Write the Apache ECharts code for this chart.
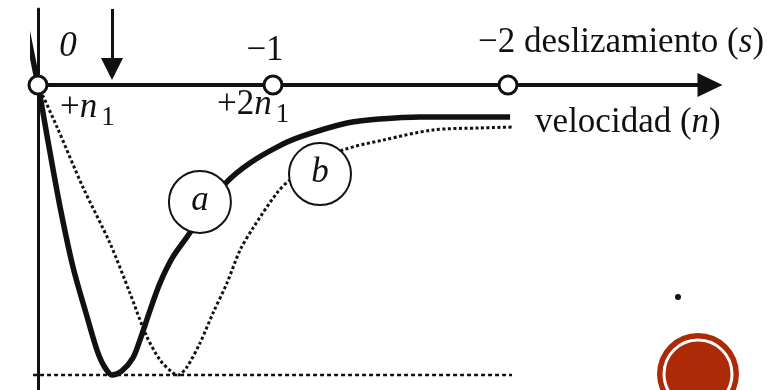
<!DOCTYPE html>
<html>
<head>
<meta charset="utf-8">
<script src="https://cdn.jsdelivr.net/npm/echarts@6/dist/echarts.min.js"></script>
<style>
  html, body { margin: 0; padding: 0; background: #fff; }
  #chart { width: 776px; height: 390px; }
</style>
</head>
<body>
<div id="chart"></div>
<script>
// Torque–slip characteristic of an induction machine (normalised torque T/Tmax vs slip s)
const slipTicks = [0, -1, -2];
const slipTickLabels = ['0', '−1', '−2'];
const speedTickLabels = ['+n1', '+2n1'];
const slipAxisName = 'deslizamiento';
const slipSymbol = 's';
const speedAxisName = 'velocidad';
const speedSymbol = 'n';

// curve a (thick) : slip and torque samples
const curveASlip   = [0.064, 0, -0.047, -0.094, -0.149, -0.209, -0.251, -0.281, -0.315, -0.357, -0.404, -0.434, -0.477, -0.519, -0.574, -0.634, -0.723, -0.804, -0.902, -1.017, -1.115, -1.315, -1.455, -1.626, -2.009];
const curveATorque = [0.259, 0, -0.214, -0.421, -0.628, -0.800, -0.914, -0.969, -1.000, -0.986, -0.941, -0.879, -0.776, -0.683, -0.593, -0.524, -0.421, -0.334, -0.269, -0.214, -0.179, -0.131, -0.117, -0.110, -0.110];

// curve b (dotted)
const curveBSlip   = [0, -0.081, -0.191, -0.306, -0.391, -0.460, -0.519, -0.574, -0.596, -0.634, -0.689, -0.745, -0.804, -0.860, -0.915, -1.017, -1.072, -1.183, -1.298, -1.468, -1.681, -1.881, -2.017];
const curveBTorque = [0, -0.145, -0.352, -0.545, -0.717, -0.862, -0.948, -0.993, -1.000, -0.972, -0.890, -0.786, -0.683, -0.569, -0.493, -0.372, -0.328, -0.276, -0.224, -0.190, -0.155, -0.148, -0.145];

// curve tags
const tagNames  = ['a', 'b'];
const tagSlip   = [-0.689, -1.2];
const tagTorque = [-0.403, -0.307];

// maximum-torque reference level
const breakdownTorque = -1;
const breakdownSlip = [0.021, -2.017];

// slip marked with the arrow
const arrowSlip = -0.315;

const FONT = "'Liberation Serif', 'DejaVu Serif', 'Times New Roman', serif";
const INK = '#111';
const FS = 35;

const zip = (xs, ys) => xs.map((x, i) => [x, ys[i]]);

const rich = {
  r:   { fontFamily: FONT, fontSize: FS, color: INK },
  i:   { fontFamily: FONT, fontSize: FS, color: INK, fontStyle: 'italic' },
  sub: { fontFamily: FONT, fontSize: 27, color: INK, padding: [20, 0, 0, 4] }
};

// "+2n1" -> plain prefix, italic n, subscript index
function speedRich(label) {
  const m = label.match(/^(\+\d*)n(\d)$/);
  return '{r|' + m[1] + '}{i|n}{sub|' + m[2] + '}';
}

const slipLabelStyle = [
  { offset: [30, -38], align: 'center' },
  { offset: [-8, -34], align: 'center' },
  { offset: [-30, -42], align: 'left' }
];
const speedLabelStyle = [
  { offset: [22, 23] },
  { offset: [-56, 20] }
];

const X_MIN = -2.8596, X_MAX = 0.02128;
const Y_MIN = -1.0517, Y_MAX = 0.2621;

const chart = echarts.init(document.getElementById('chart'), null, { renderer: 'canvas' });

const lastA = curveASlip.length - 1;

chart.setOption({
  backgroundColor: '#fff',
  animation: false,
  grid: { left: 33, right: 66, top: 9, bottom: 0, containLabel: false },
  xAxis: {
    type: 'value', inverse: true, min: X_MIN, max: X_MAX,
    axisLine: {
      show: true, onZero: true,
      symbol: ['none', 'triangle'], symbolSize: [24, 25],
      lineStyle: { color: INK, width: 4 }
    },
    axisTick: { show: false }, axisLabel: { show: false }, splitLine: { show: false }
  },
  yAxis: {
    type: 'value', min: Y_MIN, max: Y_MAX,
    axisLine: { show: true, onZero: true, lineStyle: { color: INK, width: 3 } },
    axisTick: { show: false }, axisLabel: { show: false }, splitLine: { show: false }
  },
  series: [
    {
      name: 'b', type: 'line', z: 2, clip: false, smooth: 0.3, symbol: 'none',
      data: zip(curveBSlip, curveBTorque),
      lineStyle: { color: INK, width: 3, type: [3, 2.5] }
    },
    {
      name: 'a', type: 'line', z: 3, clip: false, smooth: 0.3, symbol: 'none',
      data: zip(curveASlip, curveATorque),
      lineStyle: { color: INK, width: 5.5 }
    },
    {
      name: 'Tmax', type: 'line', z: 2, clip: false, symbol: 'none',
      data: [[breakdownSlip[0], breakdownTorque], [breakdownSlip[1], breakdownTorque]],
      lineStyle: { color: INK, width: 2.5, type: [4, 3] }
    },
    {
      name: 'arrow', type: 'line', z: 4, symbol: 'none', data: [],
      markLine: {
        silent: true, animation: false,
        symbol: ['none', 'triangle'], symbolSize: [22, 22],
        label: { show: false },
        lineStyle: { color: INK, width: 3, type: 'solid' },
        data: [[{ coord: [arrowSlip, Y_MAX] }, { coord: [arrowSlip, 0.055] }]]
      }
    },
    {
      // speed axis name, anchored at the end of curve a
      name: 'speedName', type: 'scatter', z: 6, symbolSize: 0,
      itemStyle: { opacity: 1 },
      data: [[curveASlip[lastA], curveATorque[lastA]]],
      label: {
        show: true, position: 'inside', align: 'left', verticalAlign: 'middle',
        offset: [25, 6],
        formatter: '{r|' + speedAxisName + ' (}{i|' + speedSymbol + '}{r|)}',
        rich: rich
      }
    },
    {
      name: 'slip', type: 'scatter', z: 6, symbol: 'circle', symbolSize: 18,
      itemStyle: { color: '#fff', borderColor: INK, borderWidth: 3, opacity: 1 },
      data: slipTicks.map((s, i) => ({
        value: [s, 0],
        label: {
          show: true, position: 'inside', verticalAlign: 'middle',
          align: slipLabelStyle[i].align, offset: slipLabelStyle[i].offset,
          formatter: i === 0 ? '{i|' + slipTickLabels[i] + '}'
            : i === slipTicks.length - 1
              ? '{r|' + slipTickLabels[i] + ' ' + slipAxisName + ' (}{i|' + slipSymbol + '}{r|)}'
              : '{r|' + slipTickLabels[i] + '}',
          rich: rich
        }
      }))
    },
    {
      name: 'speed', type: 'scatter', z: 6, symbolSize: 0,
      itemStyle: { opacity: 1 },
      data: speedTickLabels.map((lab, i) => ({
        value: [slipTicks[i], 0],
        label: {
          show: true, position: 'inside', align: 'left', verticalAlign: 'middle',
          offset: speedLabelStyle[i].offset,
          formatter: speedRich(lab), rich: rich
        }
      }))
    },
    {
      name: 'tags', type: 'scatter', z: 7, symbol: 'circle', symbolSize: 62,
      itemStyle: { color: '#fff', borderColor: INK, borderWidth: 2, opacity: 1 },
      data: tagNames.map((t, i) => ({ value: [tagSlip[i], tagTorque[i]], name: t })),
      label: {
        show: true, position: 'inside', offset: [0, -1],
        formatter: p => '{i|' + p.name + '}', rich: rich
      }
    }
  ],
  graphic: [
    { type: 'circle', shape: { cx: 678, cy: 297, r: 3 }, style: { fill: INK } },
    { type: 'circle', shape: { cx: 698, cy: 374, r: 41 }, style: { fill: '#ad2a06' } },
    { type: 'circle', shape: { cx: 698, cy: 374, r: 34 }, style: { fill: 'none', stroke: '#fff', lineWidth: 3 } }
  ]
});
</script>
</body>
</html>
